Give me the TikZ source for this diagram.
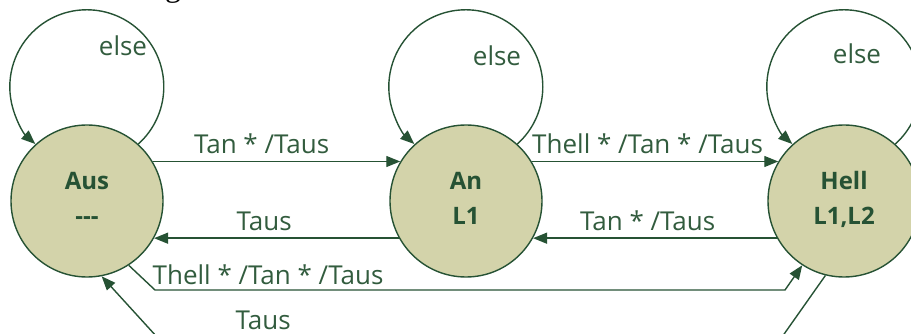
\documentclass[tikz,border=0pt]{standalone}
\usepackage{fontspec}
\setmainfont{Open Sans}
\newfontfamily\capfont{Liberation Serif}
\usetikzlibrary{arrows.meta}
\definecolor{zgreen}{RGB}{38,82,52}
\definecolor{ztext}{RGB}{50,92,62}
\definecolor{zfill}{RGB}{211,211,170}
\tikzset{
	zstate/.style={circle, draw=zgreen, fill=zfill, line width=1.4pt, minimum size=152pt, inner sep=0pt, align=center, text depth=6pt, text=zgreen, font=\bfseries\fontsize{24}{35}\selectfont},
	zarrow/.style={draw=zgreen, line width=1.4pt, -{Triangle[length=14pt,width=11pt]}},
	zlabel/.style={text=ztext, inner sep=0pt, anchor=base, yshift=8pt, font=\fontsize{26}{30}\selectfont},
	zelse/.style={text=ztext, inner sep=0pt, font=\fontsize{26}{30}\selectfont},
}
\begin{document}
\begin{tikzpicture}[x=1pt,y=1pt]
	\useasboundingbox (0,0) rectangle (911,-334);
	\clip (0,0) rectangle (911,-334);
	% caption above, cut off
	\node[inner sep=0pt, anchor=base, font=\capfont\fontsize{32}{36}\selectfont] (capg) at (173,3) {g};
	% states
	\node[zstate] (aus) at (87,-201) {Aus\\-{}-{}-};
	\node[zstate] (an) at (466,-201) {An\\L1};
	\node[zstate] (hell) at (844,-201) {Hell\\L1,L2};
	% self loops
	\foreach \st/\dx/\dy in {aus/36/155, an/31/145, hell/13/147}{
		\draw[zarrow] (\st.48) arc[start angle=-48, end angle=228, radius=77pt];
		\node[zelse] (\st-else) at ([shift={(\dx,\dy)}]\st.center) {else};
	}
	% transitions
	\draw[zarrow] (aus.31) -- node[zlabel, pos=0.44] {Tan * /Taus} (an.149);
	\draw[zarrow] (an.31) -- node[zlabel, pos=0.47] {Thell * /Tan * /Taus} (hell.149);
	\draw[zarrow] (an.209) -- node[zlabel, pos=0.55] {Taus} (aus.-29);
	\draw[zarrow] (hell.209) -- node[zlabel, pos=0.53] {Tan * /Taus} (an.-29);
	\coordinate (b1) at (155,-290);
	\coordinate (b2) at (785,-290);
	\draw[zarrow] (aus.-57) -- (b1) -- node[zlabel, pos=0, anchor=base west, xshift=-3pt, yshift=-2pt] {Thell * /Tan * /Taus} (b2) -- (hell.237);
	\coordinate (c1) at (782,-337);
	\coordinate (c2) at (157,-337);
	\draw[zarrow] (hell.256) -- (c1) -- node[zlabel, pos=0.83] {Taus} (c2) -- (aus.-79);
\end{tikzpicture}
\end{document}
